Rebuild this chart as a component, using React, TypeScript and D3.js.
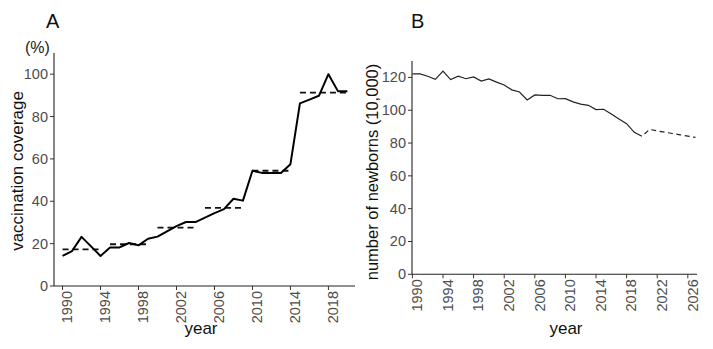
import React, { useEffect, useRef } from 'react';
import * as d3 from 'd3';

const width = 713;
const height = 349;
const fontFamily = "'Liberation Sans', Arial, Helvetica, sans-serif";

// panel A: vaccination coverage (%)
const yearsA = [1990, 1991, 1992, 1993, 1994, 1995, 1996, 1997, 1998, 1999, 2000, 2001, 2002, 2003, 2004, 2005, 2006, 2007, 2008, 2009, 2010, 2011, 2012, 2013, 2014, 2015, 2016, 2017, 2018, 2019, 2020];
const coverage = [14.2, 16.5, 23.2, 18.7, 14.2, 18.2, 18.2, 20.3, 19.2, 22.3, 23.3, 25.8, 28.3, 30.2, 30.2, 32.3, 34.4, 36.3, 41.2, 40.3, 54.4, 53.4, 53.3, 53.3, 57.5, 86.2, 88.0, 89.8, 100.0, 92.0, 92.0];
// period averages (dashed)
const periodStart = [1990, 1995, 2000, 2005, 2010, 2015];
const periodEnd = [1994, 1999, 2004, 2009, 2014, 2020];
const periodMean = [17.3, 19.7, 27.6, 36.9, 54.4, 91.3];
const yTicksA = [0, 20, 40, 60, 80, 100];
const xTicksA = [1990, 1994, 1998, 2002, 2006, 2010, 2014, 2018];

// panel B: newborns (10,000)
const yearsB = [1990, 1991, 1992, 1993, 1994, 1995, 1996, 1997, 1998, 1999, 2000, 2001, 2002, 2003, 2004, 2005, 2006, 2007, 2008, 2009, 2010, 2011, 2012, 2013, 2014, 2015, 2016, 2017, 2018, 2019, 2020];
const newborns = [122.2, 122.1, 120.7, 118.8, 123.8, 118.7, 120.7, 119.2, 120.3, 117.8, 119.1, 117.1, 115.4, 112.4, 111.1, 106.3, 109.3, 109.0, 109.1, 107.0, 107.1, 105.1, 103.7, 103.0, 100.4, 100.6, 97.7, 94.6, 91.8, 86.5, 84.1];
const projYears = [2020, 2021, 2022, 2023, 2024, 2025, 2026, 2027];
const projected = [84.1, 88.3, 87.4, 86.6, 85.8, 85.0, 84.2, 83.4];
const yTicksB = [0, 20, 40, 60, 80, 100, 120];
const xTicksB = [1990, 1994, 1998, 2002, 2006, 2010, 2014, 2018, 2022, 2026];

function drawAxes(g, x, y, xTicks, yTicks) {
  const [x0, x1] = x.range();
  const [yb, yt] = y.range();
  g.append('line').attr('x1', x0).attr('x2', x1).attr('y1', yb).attr('y2', yb)
    .attr('stroke', '#222').attr('stroke-width', 1.1);
  g.append('line').attr('x1', x0).attr('x2', x0).attr('y1', yb).attr('y2', yt)
    .attr('stroke', '#222').attr('stroke-width', 1.1);

  yTicks.forEach((t) => {
    g.append('line').attr('x1', x0 - 4).attr('x2', x0).attr('y1', y(t)).attr('y2', y(t))
      .attr('stroke', '#333');
    g.append('text').attr('x', x0 - 6).attr('y', y(t))
      .attr('text-anchor', 'end').attr('dominant-baseline', 'central')
      .attr('fill', '#4d4d4d').style('font-size', '14.5px').text(t);
  });

  xTicks.forEach((t) => {
    g.append('line').attr('x1', x(t)).attr('x2', x(t)).attr('y1', yb).attr('y2', yb + 4)
      .attr('stroke', '#333');
    g.append('text')
      .attr('transform', 'translate(' + x(t) + ',' + (yb + 5) + ')rotate(-90)')
      .attr('y', 9.8)
      .attr('text-anchor', 'end')
      .attr('fill', '#4d4d4d').style('font-size', '14.5px').text(t);
  });
}

function App() {
  const ref = useRef(null);

  useEffect(() => {
    const svg = d3.select(ref.current);
    svg.selectAll('*').remove();
    svg.style('font-family', fontFamily);

    // ---- panel A
    const xA = d3.scaleLinear().domain([1989.1, 2020.8]).range([54, 355]);
    const yA = d3.scaleLinear().domain([0, 110]).range([286, 53]);
    const gA = svg.append('g');
    drawAxes(gA, xA, yA, xTicksA, yTicksA);

    gA.selectAll('line.mean')
      .data(periodMean)
      .enter().append('line')
      .attr('class', 'mean')
      .attr('x1', (_, i) => xA(periodStart[i]))
      .attr('x2', (_, i) => xA(periodEnd[i]))
      .attr('y1', (d) => yA(d))
      .attr('y2', (d) => yA(d))
      .attr('stroke', '#111')
      .attr('stroke-width', 1.8)
      .attr('stroke-dasharray', '6 4');

    gA.append('path')
      .datum(coverage)
      .attr('fill', 'none')
      .attr('stroke', '#000')
      .attr('stroke-width', 2)
      .attr('stroke-linejoin', 'round')
      .attr('d', d3.line()
        .x((_, i) => xA(yearsA[i]))
        .y((d) => yA(d)));

    gA.append('text').attr('x', 46).attr('y', 28)
      .style('font-size', '20px').attr('fill', '#111').text('A');
    gA.append('text').attr('x', 25).attr('y', 53)
      .style('font-size', '16px').attr('fill', '#222').text('(%)');
    gA.append('text')
      .attr('transform', 'translate(22.5,171)rotate(-90)')
      .attr('text-anchor', 'middle')
      .style('font-size', '17px').attr('fill', '#111').text('vaccination coverage');
    gA.append('text').attr('x', 201).attr('y', 334)
      .attr('text-anchor', 'middle')
      .style('font-size', '17px').attr('fill', '#111').text('year');

    // ---- panel B
    const xB = d3.scaleLinear().domain([1989.95, 2027.2]).range([412, 697]);
    const yB = d3.scaleLinear().domain([0, 130]).range([274.3, 61]);
    const gB = svg.append('g');
    drawAxes(gB, xB, yB, xTicksB, yTicksB);

    gB.append('path')
      .datum(newborns)
      .attr('fill', 'none')
      .attr('stroke', '#222')
      .attr('stroke-width', 1.2)
      .attr('d', d3.line()
        .x((_, i) => xB(yearsB[i]))
        .y((d) => yB(d)));

    gB.append('path')
      .datum(projected)
      .attr('fill', 'none')
      .attr('stroke', '#222')
      .attr('stroke-width', 1.2)
      .attr('stroke-dasharray', '5 3.5')
      .attr('stroke-dashoffset', 5)
      .attr('d', d3.line()
        .x((_, i) => xB(projYears[i]))
        .y((d) => yB(d)));

    gB.append('text').attr('x', 411).attr('y', 28)
      .style('font-size', '20px').attr('fill', '#111').text('B');
    gB.append('text')
      .attr('transform', 'translate(377.5,172)rotate(-90)')
      .attr('text-anchor', 'middle')
      .style('font-size', '16.5px').attr('fill', '#111').text('number of newborns (10,000)');
    gB.append('text').attr('x', 566).attr('y', 334)
      .attr('text-anchor', 'middle')
      .style('font-size', '17px').attr('fill', '#111').text('year');
  }, []);

  return (
    <svg
      ref={ref}
      width={width}
      height={height}
      style={{ position: 'absolute', left: 0, top: 0, background: '#fff' }}
    />
  );
}

export default App;
